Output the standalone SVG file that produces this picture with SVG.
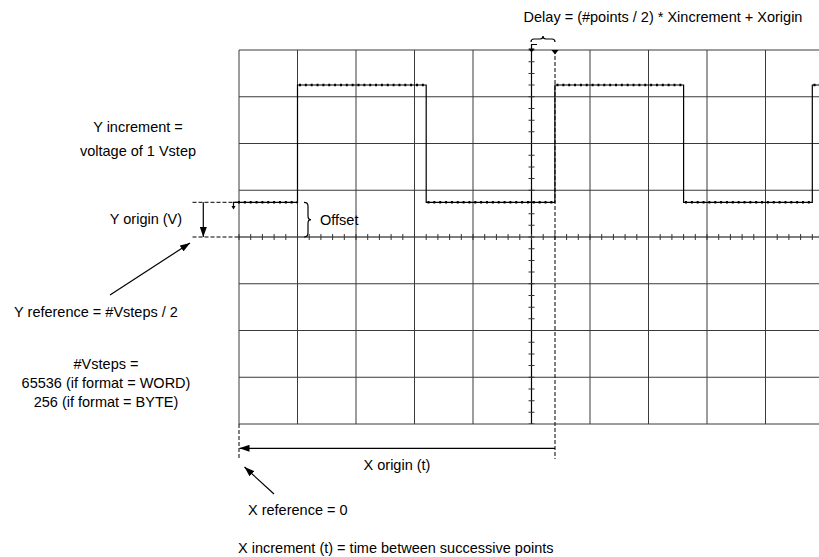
<svg xmlns="http://www.w3.org/2000/svg" width="819" height="557" viewBox="0 0 819 557">
<style>
text{font-family:"Liberation Sans",Arial,sans-serif;font-size:14.5px;fill:#000}
.grid{stroke:#3a3a3a;stroke-width:1;fill:none}
.tick{stroke:#333;stroke-width:6;fill:none}
.ln{stroke:#000;stroke-width:1.2;fill:none}
.dash{stroke:#000;stroke-width:1;fill:none;stroke-dasharray:4 2}
.sig{stroke:#000;stroke-width:1.2;fill:none}
.dots{stroke:#000;stroke-width:2.6;fill:none;stroke-dasharray:2 3.85}
</style>
<defs>
<marker id="ah" viewBox="0 0 10 7" refX="10" refY="3.5" markerWidth="10" markerHeight="7" markerUnits="userSpaceOnUse" orient="auto">
<path d="M0,0 L10,3.5 L0,7 z" fill="#000"/>
</marker>
</defs>
<g id="grid">
<path class="grid" d="M239,50V424 M297.5,50V424 M356,50V424 M414.5,50V424 M473,50V424 M590,50V424 M648.5,50V424 M707,50V424 M765.5,50V424"/>
<path class="grid" d="M239,50H819 M239,96.75H819 M239,143.5H819 M239,190.25H819 M239,283.75H819 M239,330.5H819 M239,377.25H819 M239,424H819"/>
<path class="ln" d="M239,237H819 M531.5,50V424"/>
<line class="tick" x1="238.5" y1="237" x2="819" y2="237" stroke-dasharray="1 10.7"/>
<line class="tick" x1="531.5" y1="49.5" x2="531.5" y2="424" stroke-dasharray="1 10.6875"/>
</g>
<g id="signal">
<path class="sig" d="M237,202.3H297.5V85H426.2V202.3H554.9V85H683.6V202.3H812.3V85H819"/>
<path class="dots" d="M238,202.3H297.5 M299,85H426.2 M427.5,202.3H554.9 M556.5,85H683.6 M685,202.3H812.3 M813.5,85H819"/>
<path class="ln" d="M237,202.3H233.5V208" stroke-width="1"/>
<path d="M231.5,206 L233.5,209.5 L235.5,206 z" fill="#000"/>
</g>
<g id="markers">
<path class="dash" d="M555,50V459" stroke-dasharray="3 1.5"/>
<path d="M551.5,50 L558.5,50 L555,54.5 z" fill="#000"/>
<path class="ln" d="M531.5,50V44.5H537" stroke-width="1"/>
<path d="M528.5,48.5 L534.5,48.5 L531.5,52.5 z" fill="#000"/>
</g>
<g id="delay">
<path class="ln" d="M531,42 Q531,39 534,39 H540 Q543,39 543,36 Q543,39 546,39 H552 Q555,39 555,42" stroke-width="1"/>
<text x="663" y="22" text-anchor="middle">Delay = (#points / 2) * Xincrement + Xorigin</text>
</g>
<g id="yincrement">
<text x="138" y="132" text-anchor="middle">Y increment =</text>
<text x="138" y="156" text-anchor="middle">voltage of 1 Vstep</text>
</g>
<g id="yorigin">
<path class="dash" d="M192.5,202.3H238 M192.5,237H239"/>
<line class="ln" x1="203.3" y1="202.3" x2="203.3" y2="237" marker-end="url(#ah)"/>
<text x="146" y="224" text-anchor="middle">Y origin (V)</text>
</g>
<g id="offset">
<path class="ln" d="M304,202.3 Q308,202.3 308,206 V216 Q308,219.7 311,219.7 Q308,219.7 308,223.5 V233 Q308,237 304,237" stroke-width="1"/>
<text x="320" y="225">Offset</text>
</g>
<g id="yreference">
<line class="ln" x1="110" y1="295" x2="190" y2="243" marker-end="url(#ah)"/>
<text x="96" y="317" text-anchor="middle">Y reference = #Vsteps / 2</text>
</g>
<g id="vsteps">
<text x="106" y="369" text-anchor="middle">#Vsteps =</text>
<text x="106" y="388" text-anchor="middle">65536 (if format = WORD)</text>
<text x="106" y="407" text-anchor="middle">256 (if format = BYTE)</text>
</g>
<g id="xorigin">
<path class="dash" d="M239,424V459"/>
<line class="ln" x1="555" y1="448.3" x2="239.5" y2="448.3" marker-end="url(#ah)"/>
<text x="397" y="470" text-anchor="middle">X origin (t)</text>
</g>
<g id="xreference">
<line class="ln" x1="274" y1="494" x2="244.5" y2="467" marker-end="url(#ah)"/>
<text x="248" y="515">X reference = 0</text>
</g>
<g id="xincrement">
<text x="238" y="553">X increment (t) = time between successive points</text>
</g>
</svg>
